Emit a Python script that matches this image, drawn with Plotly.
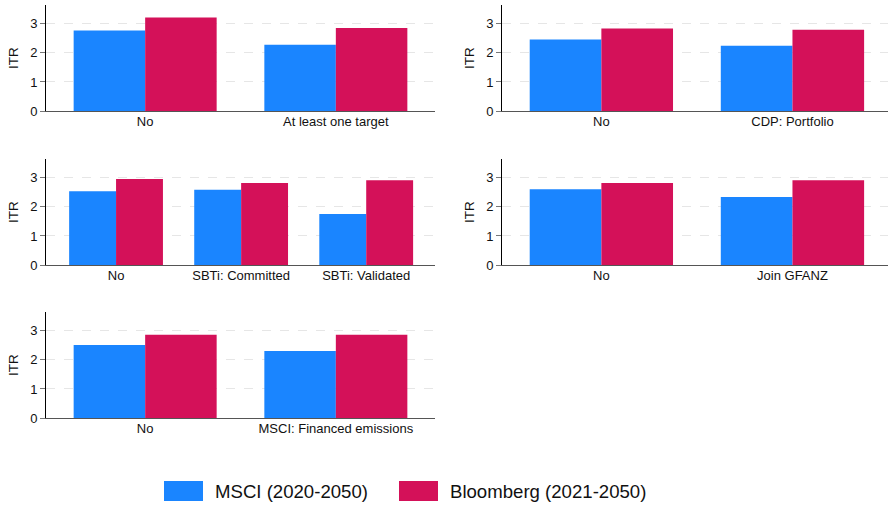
import plotly.graph_objects as go

# ---- data ----
cats_p1 = ["No", "At least one target"]
msci_p1 = [2.77, 2.28]
bloom_p1 = [3.22, 2.86]

cats_p2 = ["No", "CDP: Portfolio"]
msci_p2 = [2.46, 2.25]
bloom_p2 = [2.84, 2.80]

cats_p3 = ["No", "SBTi: Committed", "SBTi: Validated"]
msci_p3 = [2.54, 2.59, 1.76]
bloom_p3 = [2.96, 2.82, 2.92]

cats_p4 = ["No", "Join GFANZ"]
msci_p4 = [2.61, 2.34]
bloom_p4 = [2.82, 2.92]

cats_p5 = ["No", "MSCI: Financed emissions"]
msci_p5 = [2.51, 2.31]
bloom_p5 = [2.87, 2.87]

series_names = ["MSCI (2020-2050)", "Bloomberg (2021-2050)"]
y_ticks = [0, 1, 2, 3]

BLUE = "#1A85FF"
RED = "#D41159"
W, H = 889, 506
FONT = "Liberation Sans, Arial, Helvetica, sans-serif"

panels = [
    (cats_p1, msci_p1, bloom_p1),
    (cats_p2, msci_p2, bloom_p2),
    (cats_p3, msci_p3, bloom_p3),
    (cats_p4, msci_p4, bloom_p4),
    (cats_p5, msci_p5, bloom_p5),
]

# pixel layout (left, right, top, bottom)
col_x = [(46, 435), (502, 888)]
row_y = [(5, 111), (159, 265), (312, 418)]
positions = [(0, 0), (0, 1), (1, 0), (1, 1), (2, 0)]

fig = go.Figure()
layout = {}
annotations = []
for i, ((cats, m, b), (r, c)) in enumerate(zip(panels, positions)):
    idx = "" if i == 0 else str(i + 1)
    xs = list(range(len(cats)))
    fig.add_trace(go.Bar(x=xs, y=m, name=series_names[0], marker=dict(color=BLUE, line=dict(width=0)),
                         xaxis="x" + idx, yaxis="y" + idx, showlegend=False))
    fig.add_trace(go.Bar(x=xs, y=b, name=series_names[1], marker=dict(color=RED, line=dict(width=0)),
                         xaxis="x" + idx, yaxis="y" + idx, showlegend=False))
    x0, x1 = col_x[c]
    t, bt = row_y[r]
    n = len(cats)
    if n == 2:
        xr = [-0.52, 1.52] if c == 0 else [-0.52, 1.50]
    else:
        xr = [-0.56, 2.55]
    layout["xaxis" + idx] = dict(
        domain=[x0 / W, x1 / W], anchor="y" + idx, range=xr, automargin=False,
        tickmode="array", tickvals=xs, ticktext=cats, ticklabelstandoff=-2,
        showline=True, linecolor="#555555", linewidth=1,
        ticks="", showgrid=False, zeroline=False,
        tickfont=dict(size=13, color="#111111", family=FONT),
        fixedrange=True,
    )
    layout["yaxis" + idx] = dict(
        domain=[1 - bt / H, 1 - t / H], anchor="x" + idx, range=[0, 3.65], automargin=False,
        tickmode="array", tickvals=y_ticks, ticktext=[str(v) for v in y_ticks],
        showline=True, linecolor="#000000", linewidth=1,
        ticks="outside", ticklen=5, tickcolor="#777777", tickwidth=1,
        showgrid=True, gridcolor="#e6e6e6", gridwidth=1, griddash="dash",
        zeroline=False,
        tickfont=dict(size=13, color="#111111", family=FONT),
        fixedrange=True,
    )
    annotations.append(dict(
        text="ITR", textangle=-90, xref="paper", yref="paper",
        x=(x0 - 33) / W, y=1 - (t + bt) / 2 / H, xanchor="center", yanchor="middle",
        showarrow=False, font=dict(size=13.5, color="#111111", family=FONT),
    ))

# manual legend
shapes = []
leg = [(164, 203, 213, BLUE, series_names[0]), (399, 438, 448, RED, series_names[1])]
for sx0, sx1, tx, col, name in leg:
    shapes.append(dict(type="rect", xref="paper", yref="paper",
                       x0=sx0 / W, x1=sx1 / W, y0=1 - 501 / H, y1=1 - 481 / H,
                       fillcolor=col, line=dict(width=0)))
    annotations.append(dict(text=name, xref="paper", yref="paper", x=tx / W, y=1 - 491 / H,
                            xanchor="left", yanchor="middle", showarrow=False,
                            font=dict(size=18.6, color="#111111", family=FONT)))

fig.update_layout(
    template="none",
    width=W, height=H, autosize=False,
    margin=dict(l=0, r=0, t=0, b=0, pad=0),
    paper_bgcolor="white", plot_bgcolor="white",
    barmode="group", bargap=0.25, bargroupgap=0,
    showlegend=False,
    annotations=annotations, shapes=shapes,
    font=dict(family=FONT),
    **layout,
)

fig.write_html(
    "out.html",
    config={"displayModeBar": False, "responsive": False},
    post_script="document.body.style.margin='0';document.body.style.overflow='hidden';",
)
